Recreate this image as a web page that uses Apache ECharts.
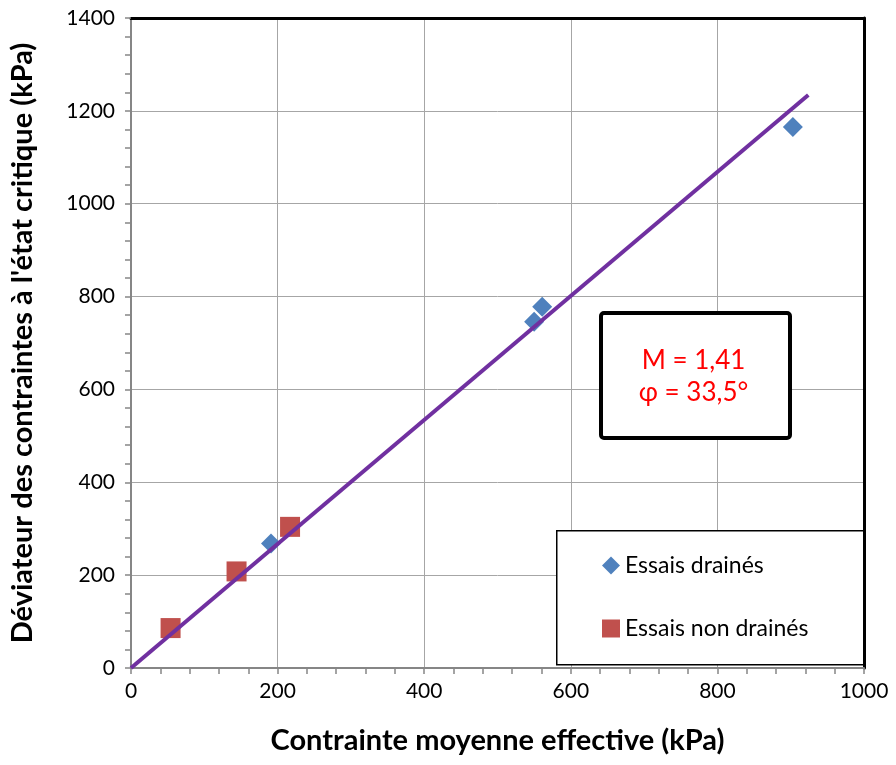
<!DOCTYPE html>
<html>
<head>
<meta charset="utf-8">
<script src="https://cdn.jsdelivr.net/npm/echarts@6/dist/echarts.min.js"></script>
<style>
  html, body { margin: 0; padding: 0; background: #fff; }
  #chart { width: 896px; height: 765px; }
</style>
</head>
<body>
<div id="chart"></div>
<script>
// essais drainés (p', q)
var draines = [[191, 268], [550, 746], [561, 778], [903, 1165]];
// essais non drainés (p', q)
var nonDraines = [[54, 86], [144, 208], [217, 304]];
// droite d'état critique
var droite = [[0, 0], [924, 1234]];

var xTitre = 'Contrainte moyenne effective (kPa)';
var yTitre = "Déviateur des contraintes à l'état critique (kPa)";
var noms = ['Essais drainés', 'Essais non drainés'];
var annotation = ['M = 1,41', 'φ = 33,5°'];

var police = 'Lato, "Open Sans", sans-serif';
var gris = '#868686';

function brut(v) { return String(v); }

var chart = echarts.init(document.getElementById('chart'));
var option = {
  animation: false,
  grid: { left: 130, right: 32, top: 18, bottom: 97 },
  xAxis: [{
    type: 'value', min: 0, max: 1000, interval: 200,
    name: xTitre, nameLocation: 'middle', nameGap: 58,
    nameTextStyle: { fontFamily: police, fontWeight: 'bold', fontSize: 29, color: '#000' },
    axisLine: { lineStyle: { color: gris, width: 2 } },
    axisTick: { show: true, length: 6, lineStyle: { color: gris, width: 1.5 } },
    minorTick: { show: true, splitNumber: 5, length: 6, lineStyle: { color: gris, width: 1.5 } },
    axisLabel: { fontFamily: police, fontSize: 21, color: '#000', margin: 13, formatter: brut },
    splitLine: { show: true, lineStyle: { color: '#A6A6A6', width: 1 } }
  }, {
    type: 'value', min: 0, max: 1000, position: 'top',
    axisLine: { show: true, onZero: false, lineStyle: { color: '#000', width: 3 } },
    axisTick: { show: false }, axisLabel: { show: false }, splitLine: { show: false }
  }],
  yAxis: [{
    type: 'value', min: 0, max: 1400, interval: 200,
    name: yTitre, nameLocation: 'middle', nameGap: 94,
    nameTextStyle: { fontFamily: police, fontWeight: 'bold', fontSize: 29, color: '#000' },
    axisLine: { show: true, lineStyle: { color: gris, width: 2 } },
    axisTick: { show: true, length: 6, lineStyle: { color: gris, width: 1.5 } },
    minorTick: { show: true, splitNumber: 5, length: 6, lineStyle: { color: gris, width: 1.5 } },
    axisLabel: { fontFamily: police, fontSize: 21, color: '#000', margin: 16, formatter: brut },
    splitLine: { show: true, lineStyle: { color: '#A6A6A6', width: 1 } }
  }, {
    type: 'value', min: 0, max: 1400, position: 'right',
    axisLine: { show: true, onZero: false, lineStyle: { color: '#000', width: 3 } },
    axisTick: { show: false }, axisLabel: { show: false }, splitLine: { show: false }
  }],
  legend: {
    data: noms,
    orient: 'vertical',
    left: 597, top: 549,
    itemWidth: 18, itemHeight: 18,
    itemGap: 40,
    textStyle: { fontFamily: police, fontSize: 23, color: '#000' },
    z: 20
  },
  graphic: [{
    type: 'rect', left: 556, top: 530, z: 15,
    shape: { width: 307, height: 134 },
    style: { fill: '#fff', stroke: '#000', lineWidth: 1.5 }
  }, {
    type: 'rect', left: 599, top: 311, z: 15,
    shape: { width: 189, height: 125, r: 3 },
    style: { fill: '#fff', stroke: '#000', lineWidth: 4 }
  }, {
    type: 'text', z: 16, x: 693.5, y: 345,
    style: {
      text: annotation.join('\n'), fill: '#FF0000', font: '26px ' + police,
      align: 'center', verticalAlign: 'top', lineHeight: 32
    }
  }],
  series: [{
    name: noms[0], type: 'scatter', data: draines,
    symbol: 'diamond', symbolSize: 20,
    itemStyle: { color: '#4F81BD', opacity: 1 }
  }, {
    name: noms[1], type: 'scatter', data: nonDraines,
    symbol: 'rect', symbolSize: 20,
    itemStyle: { color: '#C0504D', opacity: 1 }
  }, {
    name: 'droite', type: 'line', data: droite,
    showSymbol: false, symbol: 'none',
    lineStyle: { color: '#7030A0', width: 4 },
    z: 5
  }]
};
chart.setOption(option);
</script>
</body>
</html>
